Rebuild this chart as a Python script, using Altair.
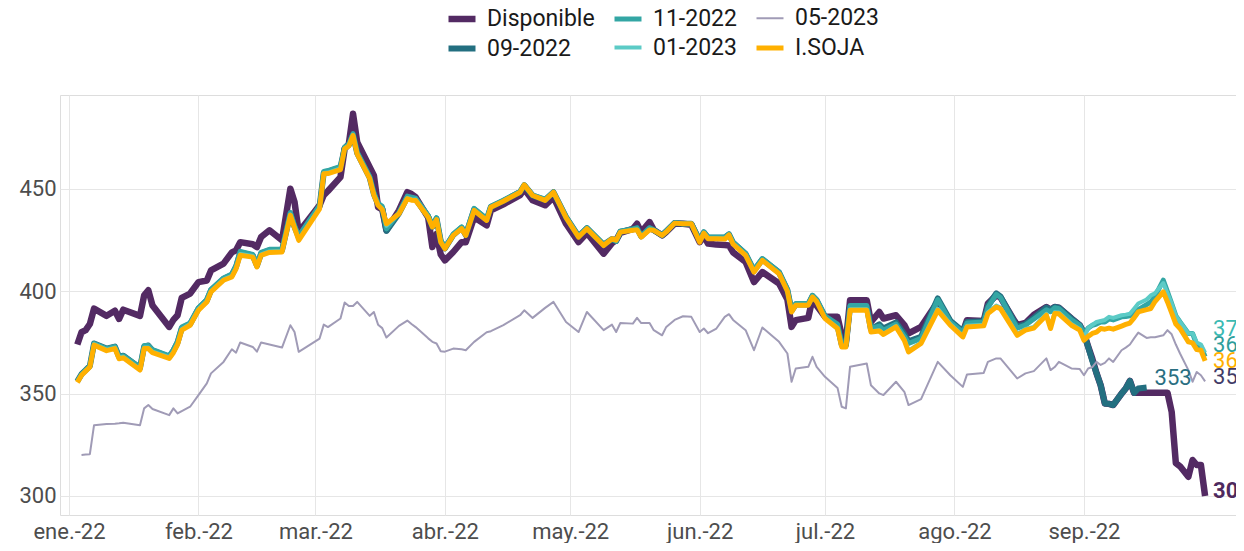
import altair as alt
import pandas as pd

# ---------------- data ----------------
fechas = [
    # ene
    "2022-01-03", "2022-01-04", "2022-01-05", "2022-01-06", "2022-01-07", "2022-01-10", "2022-01-12", "2022-01-13", "2022-01-14",
    "2022-01-18", "2022-01-19", "2022-01-20", "2022-01-21", "2022-01-25", "2022-01-26", "2022-01-27", "2022-01-28", "2022-01-30",
    # feb
    "2022-02-01", "2022-02-03", "2022-02-04", "2022-02-07", "2022-02-09", "2022-02-10", "2022-02-11", "2022-02-14", "2022-02-15",
    "2022-02-16", "2022-02-18", "2022-02-21", "2022-02-23", "2022-02-24", "2022-02-25",
    # mar
    "2022-03-02", "2022-03-03", "2022-03-04", "2022-03-07", "2022-03-08", "2022-03-09", "2022-03-10", "2022-03-11", "2022-03-14",
    "2022-03-15", "2022-03-16", "2022-03-17", "2022-03-18", "2022-03-21", "2022-03-23", "2022-03-24", "2022-03-25", "2022-03-28",
    "2022-03-29", "2022-03-30", "2022-03-31",
    # abr
    "2022-04-01", "2022-04-03", "2022-04-05", "2022-04-06", "2022-04-08", "2022-04-11", "2022-04-12", "2022-04-15", "2022-04-19",
    "2022-04-20", "2022-04-22", "2022-04-25", "2022-04-27", "2022-04-30",
    # may
    "2022-05-03", "2022-05-05", "2022-05-09", "2022-05-11", "2022-05-12", "2022-05-13", "2022-05-16", "2022-05-17", "2022-05-18",
    "2022-05-20", "2022-05-21", "2022-05-23", "2022-05-24", "2022-05-26", "2022-05-28", "2022-05-30",
    # jun
    "2022-06-01", "2022-06-02", "2022-06-03", "2022-06-05", "2022-06-07", "2022-06-08", "2022-06-09", "2022-06-12", "2022-06-14",
    "2022-06-16", "2022-06-20", "2022-06-22", "2022-06-23", "2022-06-24", "2022-06-27", "2022-06-28", "2022-06-29",
    # jul
    "2022-07-01", "2022-07-04", "2022-07-05", "2022-07-06", "2022-07-07", "2022-07-11", "2022-07-12", "2022-07-14", "2022-07-15",
    "2022-07-18", "2022-07-20", "2022-07-21", "2022-07-24", "2022-07-28", "2022-07-31",
    # ago
    "2022-08-03", "2022-08-04", "2022-08-08", "2022-08-09", "2022-08-11", "2022-08-12", "2022-08-16", "2022-08-18", "2022-08-20",
    "2022-08-23", "2022-08-24", "2022-08-25", "2022-08-26", "2022-08-29", "2022-08-31",
    # sep
    "2022-09-01", "2022-09-02", "2022-09-03", "2022-09-04", "2022-09-05", "2022-09-06", "2022-09-07", "2022-09-08", "2022-09-10",
    "2022-09-11", "2022-09-12", "2022-09-13", "2022-09-14", "2022-09-16", "2022-09-17", "2022-09-18", "2022-09-20", "2022-09-21",
    "2022-09-22", "2022-09-23", "2022-09-24", "2022-09-26", "2022-09-27", "2022-09-28", "2022-09-29", "2022-09-30",
]

disponible = [
    374, 380, 381, 384, 391.5, 388, 390.5, 386.5, 391, 388, 398, 400.5, 393, 382.6, 386, 388.3, 396.8, 398.9,
    404.5, 405.3, 410.2, 413.5, 419, 420, 424, 423, 421.6, 426.5, 429.8, 424.9, 450.1, 443.6, 428.9,
    442, 447, 449, 455.8, 469.6, 472, 486.7, 472.8, 460.6, 456.6, 441.1, 440, 429.8, 439.5, 448.4, 447.5, 446, 436, 421.6, 428, 418,
    415.1, 419.2, 424, 424, 436.2, 432.2, 439.5, 442.5, 447, 450, 444.5, 442, 446, 433,
    424, 428.5, 418.4, 423.5, 425, 428.5, 430.5, 433, 428.9, 433.8, 430, 427.3, 429, 433, 433, 432.5,
    424, 427, 423.3, 422.8, 422.6, 422.4, 419, 414.3, 404.5, 409.4, 403.8, 396, 382.6, 385.9, 387, 396.4, 393,
    387.5, 387.5, 378.5, 375.3, 395.6, 395.6, 385, 389.9, 386.7, 388.3, 383.5, 379.4, 382.6, 394.8, 385,
    380.1, 385.9, 385.5, 394, 398, 397, 383.4, 384.5, 388.5, 392.3, 391, 392.3, 392, 386.7, 383.4,
    379.4, 373, 367, 360, 354.1, 345.2, 345, 344.4, 350, 352.5, 356.2, 350.4, 350.4, 350.4, 350.4, 350.4, 350.4, 350.4,
    341.1, 316, 314.5, 309.4, 317.6, 315.1, 315.1, 300,
]

pos_09_2022 = [
    356, 359.5, 361.5, 363.5, 374.5, 372, 373, 368, 368.5, 362.5, 373, 373.5, 371, 368, 371, 375, 382, 384,
    391.5, 395.5, 400.5, 406, 408, 412, 419, 417.5, 412.5, 418.5, 420, 420, 438, 431.5, 426.5,
    441.5, 458, 458.5, 460.5, 470, 471.5, 476.5, 467.5, 455.5, 447.5, 442.5, 440.5, 429.5, 438, 446, 445.5, 445, 436.5, 431.5, 435.5, 424.5,
    421, 427.5, 431, 427.5, 440, 435, 441.2, 444.2, 448.5, 451.8, 446.8, 444.6, 448.4, 436.2,
    426.8, 430.8, 422.7, 425.5, 424.6, 429.1, 430.3, 430.8, 426.8, 430.8, 429.9, 427.4, 429.3, 433.4, 433, 433,
    424.8, 428.8, 426.2, 426.2, 426.2, 427.8, 423.7, 418.2, 410, 415.6, 409.2, 400.6, 390.5, 393.6, 393.6, 397.7, 395.6,
    387.6, 383.2, 374, 373.6, 392.5, 392.6, 381.5, 383.8, 381.8, 384.8, 379, 375.5, 377.8, 396.5, 385.6,
    380.5, 385, 385.4, 392.8, 399, 397.5, 382.6, 384, 387, 392, 391, 392.3, 392, 386.7, 383.4,
    379.4, 372.8, 366, 360, 354.1, 345.2, 345, 344.4, 350, 352.5, 356.2, 350.4, 352.5, 353,
    None, None, None, None, None, None, None, None, None, None, None, None,
]

pos_11_2022 = [
    356, 359.5, 361.5, 363.5, 374.5, 372, 373, 368, 368.5, 363, 373.5, 373.5, 371.5, 368.5, 371.5, 375.5, 382.5, 384.5,
    392, 396, 401, 406.5, 408.5, 412.5, 419.5, 418, 413, 419, 420.5, 420.5, 438.5, 432, 427,
    442, 458.5, 459, 461, 470.5, 472, 477, 468, 456, 448, 443, 441.5, 430.5, 438.5, 446.5, 446, 445.5, 437, 432, 436, 425,
    421.5, 428, 431.5, 428, 440.5, 435.5, 441.5, 444.5, 448.8, 452, 447, 445, 448.5, 436.5,
    427, 431, 423, 425.5, 424.5, 429.3, 430.5, 431, 427, 431, 430, 427.5, 429.5, 433.5, 433, 433,
    425, 429, 426.5, 426.5, 426.5, 428, 424, 418.5, 410.5, 416, 409.5, 401, 391, 394, 394, 398, 396,
    388, 384, 374.5, 374, 393, 393, 382, 383, 381, 384, 378, 374.5, 377, 396, 385,
    380, 384.5, 385, 392, 398.5, 397, 382, 383.5, 386.5, 391, 390, 392, 391.5, 386, 383.4,
    379.4, 382, 383.4, 384, 385, 385, 386.5, 386, 387.5, 387.7, 388, 389.5, 391, 393.5, 394.8, 397.5, 405.4, 399.7,
    394, 388, 385, 379.4, 379.4, 374, 373, 368,
]

pos_01_2023 = [
    355.8, 359.2, 361.2, 363.2, 374.2, 371.5, 372.5, 367.5, 368, 362, 372.5, 372.5, 370.5, 367.8, 370.5, 374.5, 381.5, 384,
    391.2, 395.2, 400.2, 405.8, 407.5, 411.5, 418.2, 417.2, 412.3, 418, 419.5, 419.7, 437.6, 431.4, 425.5,
    440.8, 457.8, 458, 460, 469.8, 471.3, 476.4, 467.3, 455.3, 447.3, 442.3, 440.5, 432, 438.1, 445.6, 445, 444.8, 436.5, 431.6, 435.3, 424.3,
    421, 427.5, 430.8, 427.5, 439.7, 434.8, 441.2, 444.1, 448.5, 451.9, 446.8, 444.5, 448.4, 436.1,
    426.6, 430.7, 422.5, 425.6, 424.8, 429, 430, 430.2, 426.6, 430.2, 429.9, 427.3, 429.1, 433.3, 433, 433,
    424.2, 428.6, 425.9, 425.9, 425.8, 427.6, 423.3, 417.8, 409.6, 415.3, 408.8, 400.2, 390.1, 393.4, 393.4, 397.4, 395.2,
    387, 382.3, 373.2, 373.1, 391.2, 391.2, 380.5, 381, 379.3, 383, 376.5, 371, 375, 391.5, 384,
    378.3, 383.2, 383.7, 389.7, 393, 392.1, 379.2, 381.6, 382.6, 389, 382.5, 389.7, 389.6, 384, 381.6,
    377, 382, 383.6, 385, 385.5, 386, 387.5, 387, 388.3, 388.6, 389, 391.5, 394, 396, 398, 399, 404, 399,
    394, 388, 385, 379.4, 379.4, 375, 374, 370,
]

pos_05_2023 = [
    None, 320, 320.2, 320.4, 334.6, 335.2, 335.3, 335.5, 335.8, 334.6, 342.8, 344.4, 342.5, 339.5, 342.8, 340.3, 341.5, 343.6,
    349.3, 355, 359.9, 365.5, 371.7, 370, 375, 372.8, 370.5, 375, 374, 372.5, 383.4, 380.1, 370.4,
    376.9, 383.7, 382.5, 386.7, 394.5, 392.8, 392.8, 394.8, 388, 389.9, 383.7, 382, 377.4, 383.1, 385.7, 384, 382.5, 377, 375.3, 374.5, 370.7,
    370.5, 372, 371.7, 371.2, 375.3, 380, 380.5, 383.5, 388.3, 390.7, 387, 391.9, 394.8, 385,
    380.1, 389.9, 381, 383.7, 380.1, 384.5, 384.2, 387, 384.5, 384.5, 381, 378.5, 382.6, 386, 387.8, 387.5,
    380.1, 381.8, 379.5, 381.8, 387.5, 388.8, 386, 381, 371.2, 382.3, 375.3, 369.6, 355.8, 362.3, 363.1, 368, 363.1,
    358.2, 352.8, 343.6, 342.8, 363.1, 364.7, 354.1, 350.1, 349.3, 355.8, 350.9, 344.4, 347.3, 365.5, 359,
    353.3, 359.4, 360.1, 365.5, 367.2, 367.2, 357.4, 359.9, 361, 367.2, 361.5, 363, 365.5, 362.3, 362,
    359, 362.3, 363, 365.5, 364, 365, 367.2, 365.5, 371.2, 372.5, 374, 377, 379.8, 377.2, 377.5, 377.5, 378.5, 381,
    379, 374, 369.6, 361.5, 355.8, 360.6, 359, 356,
]

isoja = [
    355.5, 359, 361, 363, 373.7, 371, 372, 367, 367.5, 361.5, 372, 372, 370, 367.2, 370, 374, 381, 383.4,
    390.7, 394.8, 399.7, 405.4, 407, 411, 417.6, 416.7, 411.9, 417.6, 419, 419.2, 437.1, 431, 424.9,
    440.3, 457.4, 457.5, 459.5, 469.6, 471, 476.1, 467, 455, 447, 442, 440, 433, 437.9, 445.2, 444.5, 444.4, 436.2, 431.4, 435, 424,
    420.8, 427.3, 430.6, 427.3, 439.5, 434.6, 441.1, 444, 448.4, 452, 446.8, 444.4, 448.4, 436,
    426.5, 430.6, 422.4, 425.7, 425, 428.9, 429.8, 430, 426.5, 430, 429.8, 427.3, 429, 433.3, 433, 433,
    424, 428.4, 425.7, 425.7, 425.5, 427.5, 423, 417.6, 409.4, 415.1, 408.6, 400, 389.9, 393.2, 393.2, 397.2, 395,
    386.7, 381.8, 372.8, 372.8, 390.7, 390.7, 380.1, 380.6, 378.9, 382.6, 376, 370.4, 374.5, 390.7, 383.4,
    377.7, 382.6, 383.1, 389.1, 392.3, 391.5, 378.5, 381, 382, 388.3, 381.8, 389.1, 389, 383.4, 381,
    376.1, 378, 379.4, 380, 381.8, 381.5, 382, 381.5, 383, 383.8, 384.5, 387, 389.9, 391, 391.6, 395, 399.7, 394.8,
    389.5, 384, 381.8, 375.3, 374.8, 371.5, 371.2, 366,
]

series_names = ["Disponible", "09-2022", "11-2022", "01-2023", "05-2023", "I.SOJA"]
series_values = [disponible, pos_09_2022, pos_11_2022, pos_01_2023, pos_05_2023, isoja]

for vals in series_values:
    assert len(vals) == len(fechas), (len(vals), len(fechas))

# ---------------- styles ----------------
colores = {
    "Disponible": "#532a63",
    "09-2022": "#236f80",
    "11-2022": "#33a6a4",
    "01-2023": "#5ccbc6",
    "05-2023": "#a09bb6",
    "I.SOJA": "#ffb000",
}
grosores = {
    "Disponible": 6.5,
    "09-2022": 6,
    "11-2022": 5,
    "01-2023": 4,
    "05-2023": 2,
    "I.SOJA": 5,
}
# legend entries fill the 3-column grid column by column
legend_order = series_names

rows = []
for name, vals in zip(series_names, series_values):
    for f, v in zip(fechas, vals):
        if v is not None:
            rows.append({"fecha": f + "T00:00:00", "serie": name, "valor": v})
df = pd.DataFrame(rows)

last_df = df.groupby("serie", sort=False).tail(1).reset_index(drop=True)

FONT = "Roboto"

x_scale = alt.Scale(
    domain=[alt.DateTime(year=2021, month=12, date=29, hours=20, minutes=24),
            alt.DateTime(year=2022, month=10, date=7, hours=9, minutes=36)],
    nice=False,
)
y_scale = alt.Scale(domain=[290.7, 495.9], nice=False, zero=False)

x_axis = alt.Axis(
    values=[alt.DateTime(year=2022, month=m, date=1) for m in range(1, 10)],
    labelExpr="['ene.','feb.','mar.','abr.','may.','jun.','jul.','ago.','sep.','oct.','nov.','dic.'][month(datum.value)] + '-' + timeFormat(datum.value, '%y')",
    grid=True, domain=False, ticks=False, labelPadding=6, labelFontSize=22,
    labelColor="#4d4d4d", labelFont=FONT, gridColor="#e6e6e6", gridWidth=1,
    labelFlush=False, labelOverlap=False, labelAngle=0,
)
y_axis = alt.Axis(
    values=[300, 350, 400, 450], grid=True, domain=False, ticks=False,
    labelPadding=4, labelFontSize=22, labelColor="#4d4d4d", labelFont=FONT,
    gridColor="#e6e6e6", gridWidth=1,
)

legend = alt.Legend(
    orient="none", legendX=385, legendY=-93, columns=3, symbolType="stroke",
    symbolSize=729, labelFontSize=23, labelFont=FONT, labelColor="#1a1a1a",
    labelOffset=8, columnPadding=9, rowPadding=0, padding=0,
)

x_enc = alt.X("fecha:T", scale=x_scale, axis=x_axis, title=None)
y_enc = alt.Y("valor:Q", scale=y_scale, axis=y_axis, title=None)
color_enc = alt.Color(
    "serie:N", title=None,
    scale=alt.Scale(domain=legend_order, range=[colores[s] for s in legend_order]),
    legend=legend,
)
width_enc = alt.StrokeWidth(
    "serie:N", title=None,
    scale=alt.Scale(type="ordinal", domain=legend_order, range=[grosores[s] for s in legend_order]),
    legend=legend,
)

base = alt.Chart(df)
layers = []
for s in series_names:
    layers.append(
        base.transform_filter(alt.datum.serie == s)
        .mark_line(strokeJoin="round")
        .encode(x=x_enc, y=y_enc, color=color_enc, strokeWidth=width_enc)
    )

# end labels: (serie, text colour, dx, dy, weight)
etiquetas = [
    ("01-2023", "#3bbab3", 8, -24, "normal"),
    ("11-2022", "#2e9e9b", 8, -12, "normal"),
    ("I.SOJA", "#ffb000", 8, 0, "normal"),
    ("05-2023", "#423c68", 8, -4, "normal"),
    ("09-2022", "#2a6f82", 8, -9, "normal"),
    ("Disponible", "#4e2a5e", 8, -5, "bold"),
]
lab_base = alt.Chart(last_df)
for s, col, dx, dy, w in etiquetas:
    layers.append(
        lab_base.transform_filter(alt.datum.serie == s)
        .mark_text(align="left", baseline="middle", dx=dx, dy=dy, fontSize=22,
                   font=FONT, color=col, fontWeight=w)
        .encode(x=x_enc, y=y_enc, text=alt.Text("valor:Q", format=".0f"))
    )

chart = (
    alt.layer(*layers)
    .properties(
        width=1176, height=420,
        autosize=alt.AutoSizeParams(type="none"),
        padding={"left": 52, "top": 87, "right": 0, "bottom": 28},
        background="white",
    )
    .configure_view(strokeWidth=0)
    .configure(font=FONT)
)

chart.save("out.html", embed_options={"renderer": "svg", "actions": False})
